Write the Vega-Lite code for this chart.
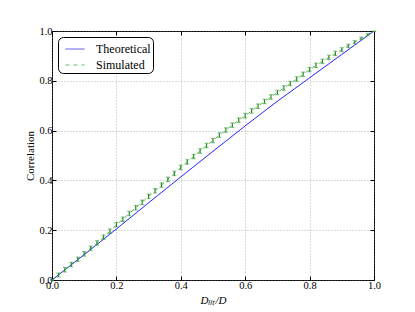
{
  "$schema": "https://vega.github.io/schema/vega-lite/v6.json",
  "autosize": {"type": "none"},
  "padding": {"left": 52, "top": 31, "right": 41, "bottom": 32},
  "width": 322,
  "height": 249,
  "background": "white",
  "config": {
    "view": {"stroke": "black", "strokeWidth": 1},
    "font": "Liberation Serif",
    "axis": {
      "labelFont": "Liberation Serif", "labelFontSize": 10.5, "labelColor": "black",
      "titleFont": "Liberation Serif", "titleFontSize": 11, "titleFontWeight": "normal", "titleColor": "black",
      "domain": false, "tickColor": "black", "tickSize": -4, "labelPadding": 4,
      "gridColor": "#888888", "gridDash": [1, 2], "gridWidth": 0.6
    },
    "legend": {
      "orient": "top-left", "offset": 6, "strokeColor": "black", "cornerRadius": 5,
      "padding": 2, "fillColor": "white", "labelFont": "Liberation Serif", "labelFontSize": 12,
      "labelColor": "black", "symbolType": "stroke", "symbolSize": 361, "symbolStrokeWidth": 1,
      "labelOffset": 11, "rowPadding": -1, "symbolOffset": 5
    }
  },
  "datasets": {
    "theory": [
      {"x": 0.0, "y": 0.0, "series": "Theoretical"},
      {"x": 0.1, "y": 0.102, "series": "Theoretical"},
      {"x": 0.2, "y": 0.205, "series": "Theoretical"},
      {"x": 0.3, "y": 0.31, "series": "Theoretical"},
      {"x": 0.4, "y": 0.414, "series": "Theoretical"},
      {"x": 0.5, "y": 0.517, "series": "Theoretical"},
      {"x": 0.6, "y": 0.619, "series": "Theoretical"},
      {"x": 0.7, "y": 0.718, "series": "Theoretical"},
      {"x": 0.8, "y": 0.812, "series": "Theoretical"},
      {"x": 0.9, "y": 0.906, "series": "Theoretical"},
      {"x": 1.0, "y": 1.0, "series": "Theoretical"}
    ],
    "sim": [
      {"x": 0.0, "y": 0.0, "lo": 0.0, "hi": 0.0, "series": "Simulated"},
      {"x": 0.02, "y": 0.02, "lo": 0.012, "hi": 0.028, "series": "Simulated"},
      {"x": 0.04, "y": 0.041, "lo": 0.032, "hi": 0.05, "series": "Simulated"},
      {"x": 0.06, "y": 0.062, "lo": 0.053, "hi": 0.071, "series": "Simulated"},
      {"x": 0.08, "y": 0.083, "lo": 0.074, "hi": 0.092, "series": "Simulated"},
      {"x": 0.10, "y": 0.105, "lo": 0.096, "hi": 0.114, "series": "Simulated"},
      {"x": 0.12, "y": 0.127, "lo": 0.118, "hi": 0.136, "series": "Simulated"},
      {"x": 0.14, "y": 0.149, "lo": 0.14, "hi": 0.158, "series": "Simulated"},
      {"x": 0.16, "y": 0.172, "lo": 0.163, "hi": 0.181, "series": "Simulated"},
      {"x": 0.18, "y": 0.196, "lo": 0.187, "hi": 0.205, "series": "Simulated"},
      {"x": 0.20, "y": 0.222, "lo": 0.213, "hi": 0.231, "series": "Simulated"},
      {"x": 0.22, "y": 0.244, "lo": 0.235, "hi": 0.253, "series": "Simulated"},
      {"x": 0.24, "y": 0.267, "lo": 0.258, "hi": 0.276, "series": "Simulated"},
      {"x": 0.26, "y": 0.29, "lo": 0.281, "hi": 0.299, "series": "Simulated"},
      {"x": 0.28, "y": 0.312, "lo": 0.303, "hi": 0.321, "series": "Simulated"},
      {"x": 0.30, "y": 0.336, "lo": 0.327, "hi": 0.345, "series": "Simulated"},
      {"x": 0.32, "y": 0.358, "lo": 0.349, "hi": 0.367, "series": "Simulated"},
      {"x": 0.34, "y": 0.381, "lo": 0.372, "hi": 0.39, "series": "Simulated"},
      {"x": 0.36, "y": 0.404, "lo": 0.395, "hi": 0.413, "series": "Simulated"},
      {"x": 0.38, "y": 0.428, "lo": 0.419, "hi": 0.437, "series": "Simulated"},
      {"x": 0.40, "y": 0.452, "lo": 0.443, "hi": 0.461, "series": "Simulated"},
      {"x": 0.42, "y": 0.474, "lo": 0.465, "hi": 0.483, "series": "Simulated"},
      {"x": 0.44, "y": 0.496, "lo": 0.487, "hi": 0.505, "series": "Simulated"},
      {"x": 0.46, "y": 0.518, "lo": 0.509, "hi": 0.527, "series": "Simulated"},
      {"x": 0.48, "y": 0.54, "lo": 0.531, "hi": 0.549, "series": "Simulated"},
      {"x": 0.50, "y": 0.56, "lo": 0.551, "hi": 0.569, "series": "Simulated"},
      {"x": 0.52, "y": 0.582, "lo": 0.573, "hi": 0.591, "series": "Simulated"},
      {"x": 0.54, "y": 0.602, "lo": 0.593, "hi": 0.611, "series": "Simulated"},
      {"x": 0.56, "y": 0.622, "lo": 0.613, "hi": 0.631, "series": "Simulated"},
      {"x": 0.58, "y": 0.642, "lo": 0.633, "hi": 0.651, "series": "Simulated"},
      {"x": 0.60, "y": 0.66, "lo": 0.651, "hi": 0.669, "series": "Simulated"},
      {"x": 0.62, "y": 0.679, "lo": 0.67, "hi": 0.688, "series": "Simulated"},
      {"x": 0.64, "y": 0.698, "lo": 0.689, "hi": 0.707, "series": "Simulated"},
      {"x": 0.66, "y": 0.717, "lo": 0.708, "hi": 0.726, "series": "Simulated"},
      {"x": 0.68, "y": 0.735, "lo": 0.726, "hi": 0.744, "series": "Simulated"},
      {"x": 0.70, "y": 0.753, "lo": 0.744, "hi": 0.762, "series": "Simulated"},
      {"x": 0.72, "y": 0.771, "lo": 0.762, "hi": 0.78, "series": "Simulated"},
      {"x": 0.74, "y": 0.789, "lo": 0.78, "hi": 0.798, "series": "Simulated"},
      {"x": 0.76, "y": 0.807, "lo": 0.798, "hi": 0.816, "series": "Simulated"},
      {"x": 0.78, "y": 0.826, "lo": 0.817, "hi": 0.835, "series": "Simulated"},
      {"x": 0.80, "y": 0.845, "lo": 0.836, "hi": 0.854, "series": "Simulated"},
      {"x": 0.82, "y": 0.862, "lo": 0.853, "hi": 0.871, "series": "Simulated"},
      {"x": 0.84, "y": 0.878, "lo": 0.869, "hi": 0.887, "series": "Simulated"},
      {"x": 0.86, "y": 0.894, "lo": 0.885, "hi": 0.903, "series": "Simulated"},
      {"x": 0.88, "y": 0.91, "lo": 0.901, "hi": 0.919, "series": "Simulated"},
      {"x": 0.90, "y": 0.925, "lo": 0.917, "hi": 0.933, "series": "Simulated"},
      {"x": 0.92, "y": 0.94, "lo": 0.933, "hi": 0.947, "series": "Simulated"},
      {"x": 0.94, "y": 0.955, "lo": 0.949, "hi": 0.961, "series": "Simulated"},
      {"x": 0.96, "y": 0.97, "lo": 0.965, "hi": 0.975, "series": "Simulated"},
      {"x": 0.98, "y": 0.985, "lo": 0.981, "hi": 0.989, "series": "Simulated"},
      {"x": 1.0, "y": 1.0, "lo": 0.998, "hi": 1.0, "series": "Simulated"}
    ]
  },
  "resolve": {"axis": {"x": "independent", "y": "independent"}},
  "layer": [
    {
      "data": {"name": "theory"},
      "mark": {"type": "line", "strokeWidth": 1, "clip": true},
      "encoding": {
        "x": {"field": "x", "type": "quantitative", "scale": {"domain": [0, 1], "nice": false},
              "axis": {"orient": "bottom", "title": "Dₗₗₜ/D", "titleFontStyle": "italic", "titlePadding": 4,
                       "values": [0, 0.2, 0.4, 0.6, 0.8, 1.0], "format": ".1f", "grid": true, "labelFlush": false}},
        "y": {"field": "y", "type": "quantitative", "scale": {"domain": [0, 1], "nice": false},
              "axis": {"orient": "left", "title": "Correlation", "titlePadding": 3,
                       "values": [0, 0.2, 0.4, 0.6, 0.8, 1.0], "format": ".1f", "grid": true, "labelFlush": false}},
        "color": {"field": "series", "type": "nominal",
                  "scale": {"domain": ["Theoretical", "Simulated"], "range": ["#0000ff", "#2e9a2e"]},
                  "legend": {"title": null, "labelFont": "Liberation Serif", "labelFontSize": 12}},
        "strokeDash": {"field": "series", "type": "nominal",
                  "scale": {"domain": ["Theoretical", "Simulated"], "range": [[1, 0], [4, 4]]},
                  "legend": {"title": null, "labelFont": "Liberation Serif", "labelFontSize": 12}}
      }
    },
    {
      "data": {"name": "sim"},
      "mark": {"type": "line", "strokeWidth": 1, "opacity": 0.7, "clip": true},
      "encoding": {
        "x": {"field": "x", "type": "quantitative",
              "axis": {"orient": "top", "title": null, "labels": false, "grid": false, "values": [0, 0.2, 0.4, 0.6, 0.8, 1.0]}},
        "y": {"field": "y", "type": "quantitative",
              "axis": {"orient": "right", "title": null, "labels": false, "grid": false, "values": [0, 0.2, 0.4, 0.6, 0.8, 1.0]}},
        "color": {"field": "series", "type": "nominal"},
        "strokeDash": {"field": "series", "type": "nominal"}
      }
    },
    {
      "data": {"name": "sim"},
      "mark": {"type": "rule", "color": "#1f8f1f", "strokeWidth": 1.2},
      "encoding": {
        "x": {"field": "x", "type": "quantitative", "axis": null},
        "y": {"field": "lo", "type": "quantitative", "axis": null},
        "y2": {"field": "hi"}
      }
    },
    {
      "data": {"name": "sim"},
      "mark": {"type": "tick", "orient": "horizontal", "size": 4, "thickness": 1, "color": "#3fa33f"},
      "encoding": {
        "x": {"field": "x", "type": "quantitative", "axis": null},
        "y": {"field": "lo", "type": "quantitative", "axis": null}
      }
    },
    {
      "data": {"name": "sim"},
      "mark": {"type": "tick", "orient": "horizontal", "size": 4, "thickness": 1, "color": "#3fa33f"},
      "encoding": {
        "x": {"field": "x", "type": "quantitative", "axis": null},
        "y": {"field": "hi", "type": "quantitative", "axis": null}
      }
    }
  ]
}
